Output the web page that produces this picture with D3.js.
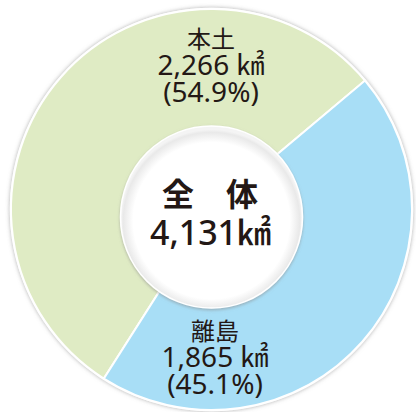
<!DOCTYPE html>
<html lang="ja">
<head>
<meta charset="UTF-8">
<title>面積の内訳</title>
<script src="https://d3js.org/d3.v7.min.js"></script>
<style>
  body { margin: 0; padding: 0; background: #fff; }
  svg { display: block; font-family: "Noto Sans", "Noto Sans CJK JP", sans-serif; }
</style>
</head>
<body>
<svg id="chart" width="416" height="412"></svg>
<script>
// data
const names = ["本土", "離島"];
const areas = [2266, 1865];
const shares = ["54.9%", "45.1%"];
const totalLabel = "全　体";
const totalArea = "4,131";

const width = 416, height = 412;
const cx = 211.5, cy = 209.5;
const outerR = 200.5;
const holeR = 91, holeCx = 211.5, holeCy = 217;

const colors = d3.scaleOrdinal().domain(names).range(["#dfebc4", "#a8def6"]);

const svg = d3.select("#chart");
const defs = svg.append("defs");

// soft grey shadow for the rims
const sh = defs.append("filter").attr("id", "shadow")
    .attr("x", "-10%").attr("y", "-10%").attr("width", "120%").attr("height", "120%");
sh.append("feDropShadow").attr("dx", 0).attr("dy", 0).attr("stdDeviation", 2.2)
    .attr("flood-color", "#777").attr("flood-opacity", 0.6);

const sh2 = defs.append("filter").attr("id", "shadow2")
    .attr("x", "-10%").attr("y", "-10%").attr("width", "120%").attr("height", "120%");
sh2.append("feDropShadow").attr("dx", 0).attr("dy", 1.5).attr("stdDeviation", 1.8)
    .attr("flood-color", "#888").attr("flood-opacity", 0.55);

const grad = defs.append("radialGradient").attr("id", "holeGrad")
    .attr("cx", "50%").attr("cy", "52%").attr("r", "50%");
grad.append("stop").attr("offset", "86%").attr("stop-color", "#fff");
grad.append("stop").attr("offset", "97%").attr("stop-color", "#e9e9e9");
grad.append("stop").attr("offset", "100%").attr("stop-color", "#f4f4f4");

// outer rim
svg.append("circle")
    .attr("cx", cx).attr("cy", cy).attr("r", outerR + 1.2)
    .attr("fill", "#fff")
    .attr("filter", "url(#shadow)");

const pie = d3.pie().sort(null)
    .startAngle(212.5 * Math.PI / 180)
    .endAngle((212.5 + 360) * Math.PI / 180);
const arc = d3.arc().innerRadius(0).outerRadius(outerR);

const g = svg.append("g").attr("transform", `translate(${cx},${cy})`);
g.selectAll("path")
    .data(pie(areas))
    .join("path")
    .attr("d", arc)
    .attr("fill", (d, i) => colors(names[i]))
    .attr("stroke", "#fff")
    .attr("stroke-width", 2);

// centre disc
svg.append("circle")
    .attr("cx", holeCx).attr("cy", holeCy).attr("r", holeR)
    .attr("fill", "url(#holeGrad)")
    .attr("stroke", "#fff")
    .attr("stroke-width", 1.5)
    .attr("filter", "url(#shadow2)");

const ink = "#231815";

// slice labels
const labelPos = [{ x: 211, y: 48 }, { x: 215, y: 340 }];
const lab = svg.selectAll("g.lab")
    .data(names)
    .join("g")
    .attr("class", "lab")
    .attr("transform", (d, i) => `translate(${labelPos[i].x},${labelPos[i].y})`)
    .attr("fill", ink)
    .attr("text-anchor", "middle");

lab.append("text")
    .attr("font-family", "'Noto Sans CJK JP', sans-serif")
    .attr("font-size", 24)
    .text(d => d);
lab.append("text")
    .attr("y", 27)
    .attr("font-size", 28)
    .text((d, i) => d3.format(",")(areas[i]) + " ㎢");
lab.append("text")
    .attr("y", 54)
    .attr("font-size", 28)
    .text((d, i) => `(${shares[i]})`);

// centre labels
svg.append("text")
    .attr("x", 210).attr("y", 206)
    .attr("text-anchor", "middle")
    .attr("font-family", "'Noto Sans CJK JP', sans-serif")
    .attr("font-size", 32)
    .attr("font-weight", 700)
    .attr("fill", ink)
    .text(totalLabel);
svg.append("text")
    .attr("x", 210.5).attr("y", 245)
    .attr("text-anchor", "middle")
    .attr("font-size", 34)
    .attr("font-weight", 500)
    .attr("fill", ink)
    .text(totalArea + "㎢");
</script>
</body>
</html>
